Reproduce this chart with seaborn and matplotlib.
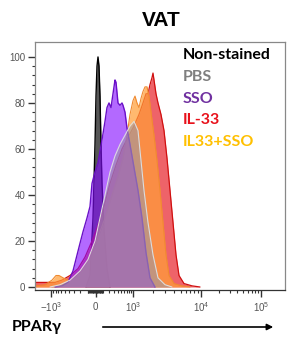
import numpy as np
import pandas as pd
import matplotlib
matplotlib.use("Agg")
import matplotlib.pyplot as plt
import seaborn as sns

# channel positions (display units of the biexponential axis) and % of max
ns_x = [86, 90, 93, 95, 96, 97, 98, 99, 100, 101, 102, 104, 107, 110]
ns_y = [0, 5, 30, 62, 83, 96, 100, 96, 83, 62, 45, 25, 8, 0]

pbs_x = [50, 60, 70, 80, 88, 95, 100, 105, 110, 115, 120, 125, 130, 134, 138, 141, 144, 148, 153, 158, 165, 172]
pbs_y = [0, 1, 3, 7, 12, 20, 30, 40, 50, 57, 62, 66, 70, 72, 68, 55, 42, 28, 14, 4, 1, 0]

sso_x = [55, 62, 68, 73, 80, 83, 87, 90, 92, 95, 98, 102, 105, 107, 109, 111, 113, 115, 116, 118,
         120, 122, 123, 125, 127, 130, 134, 138, 142, 146, 150, 155]
sso_y = [0, 0.5, 2, 7, 19, 24, 30, 35, 45, 50, 54, 64, 72, 78, 80, 78, 84, 90, 89, 80,
         79, 80, 79, 76, 69, 62, 52, 42, 30, 15, 4, 0]

il33_x = [35, 45, 55, 62, 70, 78, 85, 92, 98, 104, 110, 116, 122, 128, 134, 139, 143, 146, 148, 150,
          152, 153, 154, 156, 158, 161, 164, 167, 170, 173, 176, 179, 184, 192, 200]
il33_y = [2, 2, 2, 3, 5, 8, 13, 20, 27, 35, 45, 53, 60, 65, 70, 75, 80, 84, 84, 88,
          91, 93, 90, 84, 80, 75, 68, 56, 42, 28, 14, 5, 1.5, 0.5, 0]

combo_x = [35, 45, 52, 56, 59, 63, 68, 75, 85, 95, 105, 112, 118, 123, 127, 130, 133, 135, 137, 139,
           141, 143, 145, 147, 149, 151, 154, 157, 160, 163, 166, 169, 174, 182, 190]
combo_y = [0.5, 1, 3, 5, 5, 4, 3, 4, 9, 18, 30, 40, 48, 56, 66, 75, 81, 83, 80, 78,
           82, 85, 87, 87, 83, 76, 66, 55, 42, 28, 14, 5, 1.5, 0.5, 0]

legend_labels = ["Non-stained", "PBS", "SSO", "IL-33", "IL33+SSO"]
legend_colors = ["#000000", "#7f7f7f", "#7030a0", "#e8101a", "#ffc000"]

tick_vals = [-1000, 0, 1000, 10000, 100000]
tick_labels = ["$-10^3$", "$0$", "$10^3$", "$10^4$", "$10^5$"]


def chan(v):
    # rough logicle-like mapping from fluorescence value to display channel
    v = np.asarray(v, dtype=float)
    out = np.empty_like(v)
    hi = v >= 1000
    out[hi] = np.interp(np.log10(v[hi]), [3, 4, 5], [133, 201, 261])
    pos = (v >= 0) & ~hi
    out[pos] = 96 + 37 * np.arcsinh(v[pos] / 250) / np.arcsinh(4)
    neg = v < 0
    out[neg] = 96 - 45 * np.arcsinh(-v[neg] / 250) / np.arcsinh(4)
    return out


sns.set_style("ticks")
plt.rcParams["font.family"] = ["Liberation Sans", "DejaVu Sans"]
plt.rcParams["mathtext.fontset"] = "custom"
plt.rcParams["mathtext.rm"] = "Liberation Sans"

fig = plt.figure(figsize=(2.87, 3.38), dpi=100)
ax = fig.add_axes([35 / 287, 1 - 290 / 338, 250 / 287, 248 / 338])

# draw order: black, red, orange, purple, gray
series = [
    (ns_x, ns_y, (0.22, 0.22, 0.22), 0.85, "#000000", 1.0),
    (il33_x, il33_y, (0.91, 0.13, 0.16), 0.70, "#d01010", 0.9),
    (combo_x, combo_y, (1.0, 0.62, 0.22), 0.72, "#f08a30", 0.8),
    (sso_x, sso_y, (0.52, 0.05, 1.0), 0.62, "#6a10c8", 1.0),
    (pbs_x, pbs_y, (0.62, 0.60, 0.64), 0.60, "#dcdcdc", 0.8),
]
for k, (xs, ys, c, a, ec, lw) in enumerate(series):
    ax.fill_between(xs, 0, ys, color=c, alpha=a, lw=0, zorder=2 + 2 * k)
    sns.lineplot(x=xs, y=ys, ax=ax, color=ec, lw=lw, sort=False, estimator=None,
                 zorder=3 + 2 * k)

ax.set_xlim(35, 285)
ax.set_ylim(-1.3, 106.5)

ax.set_yticks(range(0, 101, 20))
ax.set_yticks(range(0, 101, 4), minor=True)
ax.set_xticks(chan(tick_vals))
ax.set_xticklabels(tick_labels)
minor = list(range(-900, -99, 100)) + list(range(-90, 0, 10)) + list(range(10, 100, 10)) \
    + list(range(100, 1000, 100)) + list(range(2000, 10000, 1000)) + list(range(20000, 100000, 10000))
ax.set_xticks(chan(minor), minor=True)

ax.tick_params(axis="both", which="major", length=5, width=1.0, color="#333333",
               labelsize=7, labelcolor="#555555", pad=2)
ax.tick_params(axis="both", which="minor", length=2.5, width=0.8, color="#333333")
for s in ax.spines.values():
    s.set_color("#888888")
    s.set_linewidth(0.9)
    s.set_zorder(20)
ax.spines["bottom"].set_color("#333333")
ax.set_xlabel("")
ax.set_ylabel("")

for i, (lab, col) in enumerate(zip(legend_labels, legend_colors)):
    ax.text(0.592, 0.948 - i * 0.088, lab, transform=ax.transAxes, color=col,
            fontsize=11.5, fontweight="bold", family=["Lato", "DejaVu Sans"],
            va="center", ha="left", zorder=30)

fig.text(161 / 287, 1 - 20 / 338, "VAT", ha="center", va="center",
         fontsize=15, fontweight="bold", color="black")
fig.text(12 / 287, 1 - 327 / 338, "PPARγ", ha="left", va="center",
         fontsize=11.5, fontweight="bold", color="black", family=["Lato", "DejaVu Sans"])
fig.add_artist(matplotlib.patches.FancyArrowPatch(
    (100 / 287, 1 - 327 / 338), (276 / 287, 1 - 327 / 338),
    transform=fig.transFigure, arrowstyle="-|>", mutation_scale=9,
    color="black", lw=1.2))

fig.savefig("out.png", dpi=100)
